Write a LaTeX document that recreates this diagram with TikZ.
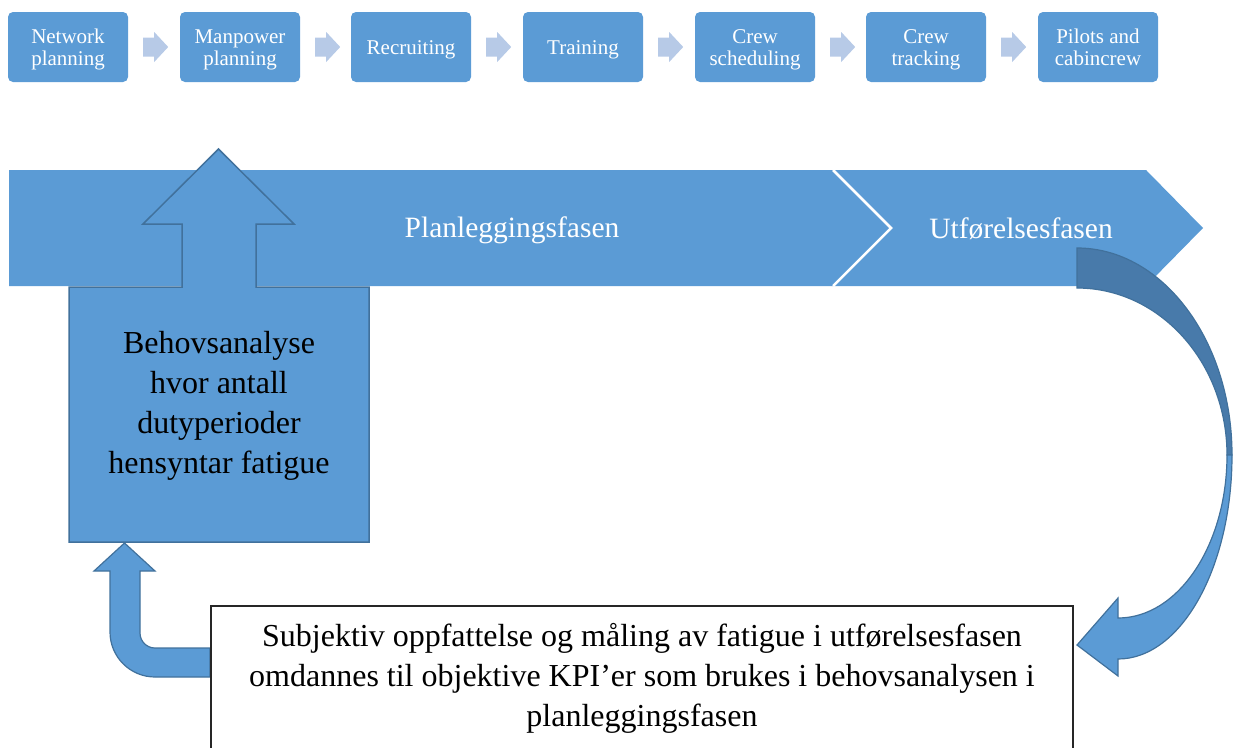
\documentclass[tikz,border=0pt]{standalone}
\usepackage{fontspec}
\setmainfont{Liberation Serif}
\usetikzlibrary{calc}
\definecolor{blueA}{RGB}{91,155,213}
\definecolor{blueLine}{RGB}{65,113,156}
\definecolor{blueDark}{RGB}{72,122,170}
\definecolor{blueLight}{RGB}{183,202,231}
\begin{document}
\begin{tikzpicture}[x={(1pt,0pt)},y={(0pt,-1pt)},
  stepbox/.style={fill=blueA, rounded corners=5pt, minimum width=120pt,
    minimum height=70pt, text=white, inner sep=0pt, align=center,
    font=\fontsize{21}{22}\selectfont},
  flowarrow/.style={fill=blueLight},
  phase/.style={text=white, inner sep=0pt, font=\fontsize{29.5}{34}\selectfont},
  bodytext/.style={text=black, inner sep=0pt, align=center,
    font=\fontsize{32}{40}\selectfont},
  shapeline/.style={fill=blueA, draw=blueLine, line width=1.5pt, line join=miter},
  arrowback/.style={fill=blueDark, draw=blueLine, line width=1.2pt},
  notebox/.style={fill=white, draw=black!85, line width=1.2pt}]
\useasboundingbox (0,0) rectangle (1233,747);
\clip (0,0) rectangle (1233,747);

% process steps along the top
\foreach \name/\cx/\txt in {s1/68/Network\\planning, s2/240/Manpower\\planning,
    s3/411/Recruiting, s4/583/Training, s5/755/Crew\\scheduling,
    s6/926/Crew\\tracking, s7/1098/Pilots and\\cabincrew}
  \node[stepbox, text depth=0pt] (\name) at (\cx,47) {\strut\txt};

% block arrows between the steps
\foreach \a in {s1,s2,s3,s4,s5,s6}
  \fill[flowarrow] ($(\a.east)+(15,-9.5)$) -- ($(\a.east)+(26,-9.5)$)
    -- ($(\a.east)+(26,-15)$) -- ($(\a.east)+(40,0)$) -- ($(\a.east)+(26,15)$)
    -- ($(\a.east)+(26,9.5)$) -- ($(\a.east)+(15,9.5)$) -- cycle;

% phase band
\fill[blueA] (9,170) -- (833,170) -- (891,228) -- (833,286) -- (9,286) -- cycle;
\fill[blueA] (833,170) -- (1146,170) -- (1203,228) -- (1146,286) -- (833,286) -- (891,228) -- cycle;
\draw[white, line width=2.5pt] (833,170) -- (891,228) -- (833,286);
\node[phase] (plan) at (512,230) {Planleggingsfasen};
\node[phase] (exec) at (1021,229) {Utførelsesfasen};

% up-arrow callout
\draw[shapeline] (69,287) -- (182,287) -- (182,224) -- (143,224) -- (218.5,149)
  -- (294,224) -- (256,224) -- (256,287) -- (369,287) -- (369,542) -- (69,542) -- cycle;
\node[bodytext] (need) at (219,406) {Behovsanalyse\\hvor antall\\dutyperioder\\hensyntar fatigue};

% curved arrow from the execution phase down to the note
\draw[arrowback] (1077,248) arc[start angle=90,end angle=0,x radius=155pt,y radius=207pt]
  -- (1227,455) arc[start angle=0,end angle=90,x radius=150pt,y radius=167pt] -- cycle;
\draw[shapeline, line width=1.2pt] (1232,455) arc[start angle=0,end angle=-90,x radius=114pt,y radius=204pt]
  -- (1118,676) -- (1077,645) -- (1118,598) -- (1118,618)
  arc[start angle=-90,end angle=0,x radius=109pt,y radius=163pt] -- cycle;

% bent arrow from the note up to the analysis box
\draw[shapeline, line width=1.2pt] (210,648) -- (155,648) arc[start angle=270,end angle=180,radius=15pt]
  -- (140,571) -- (155,571) -- (124.5,543) -- (94,571) -- (110,571) -- (110,632)
  arc[start angle=180,end angle=270,radius=45pt] -- (210,677) -- cycle;

% note box
\draw[notebox] (211,606) rectangle (1073,770);
\node[bodytext] (kpi) at (642,678) {Subjektiv oppfattelse og måling av fatigue i utførelsesfasen\\omdannes til objektive KPI’er som brukes i behovsanalysen i\\planleggingsfasen};
\end{tikzpicture}
\end{document}
